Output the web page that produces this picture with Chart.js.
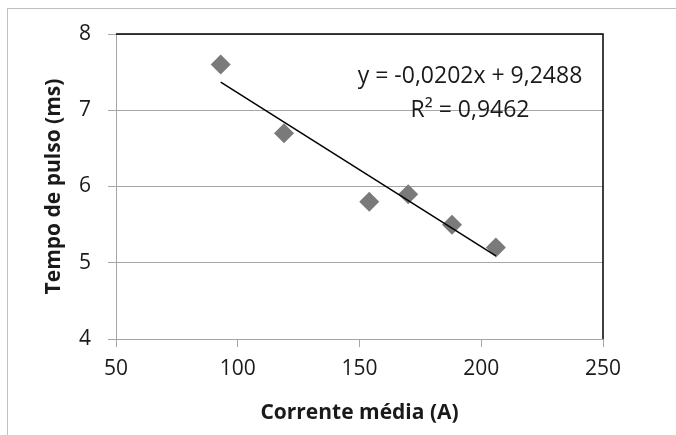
<!DOCTYPE html>
<html>
<head>
<meta charset="utf-8">
<script src="https://cdn.jsdelivr.net/npm/chart.js@4"></script>
<style>
  body { margin: 0; background: #fff; }
  #wrap { position: relative; width: 676px; height: 435px; }
</style>
</head>
<body>
<div id="wrap"><canvas id="pulseChart"></canvas></div>
<script>
// Medidas: corrente média x tempo de pulso
const correnteMedia = [93, 119, 154, 170, 188, 206];
const tempoPulso = [7.6, 6.7, 5.8, 5.9, 5.5, 5.2];

// Linha de tendência (pontos extremos)
const trendX = [93, 206];
const trendY = [7.37, 5.09];

const xTicks = [50, 100, 150, 200, 250];
const yTicks = [4, 5, 6, 7, 8];

const equationLines = ['y = -0,0202x + 9,2488', 'R² = 0,9462'];

const FONT = "'Open Sans', sans-serif";
const GRID = '#a6a6a6';

// Moldura do gráfico + borda superior/direita da área de plotagem
const framePlugin = {
    id: 'frame',
    beforeDraw(chart) {
        const ctx = chart.ctx;
        ctx.save();
        ctx.strokeStyle = '#c0c0c0';
        ctx.lineWidth = 1;
        ctx.strokeRect(7.5, 8.5, 720, 480);
        ctx.restore();
    },
    afterDraw(chart) {
        const { ctx, chartArea } = chart;
        ctx.save();
        ctx.strokeStyle = '#000';
        ctx.lineWidth = 1.5;
        ctx.beginPath();
        ctx.moveTo(chartArea.left, chartArea.top);
        ctx.lineTo(chartArea.right, chartArea.top);
        ctx.lineTo(chartArea.right, chartArea.bottom);
        ctx.stroke();

        // Equação da tendência
        ctx.fillStyle = '#1a1a1a';
        ctx.font = '23px ' + FONT;
        ctx.textAlign = 'center';
        ctx.textBaseline = 'middle';
        ctx.fillText(equationLines[0], 470, 76);
        ctx.fillText(equationLines[1], 470, 110);
        ctx.restore();
    }
};

const ctx = document.getElementById('pulseChart');
new Chart(ctx, {
    type: 'scatter',
    data: {
        datasets: [
            {
                label: 'Tendência',
                data: trendX.map((x, i) => ({ x: x, y: trendY[i] })),
                showLine: true,
                borderColor: '#000',
                borderWidth: 1.5,
                pointRadius: 0,
                order: 0
            },
            {
                label: 'Tempo de pulso',
                data: correnteMedia.map((x, i) => ({ x: x, y: tempoPulso[i] })),
                pointStyle: 'rectRot',
                pointRadius: 10,
                backgroundColor: '#7a7a7a',
                borderWidth: 0,
                order: 1
            }
        ]
    },
    options: {
        responsive: true,
        maintainAspectRatio: false,
        animation: false,
        layout: { padding: { left: 0, top: 34, right: 73, bottom: 0 } },
        plugins: {
            legend: { display: false },
            tooltip: { enabled: false }
        },
        scales: {
            x: {
                type: 'linear',
                min: 50,
                max: 250,
                afterBuildTicks: (scale) => { scale.ticks = xTicks.map(v => ({ value: v })); },
                afterFit: (scale) => { scale.height = 96; },
                border: { color: GRID, width: 1 },
                grid: { drawOnChartArea: false, drawTicks: true, tickLength: 8, color: GRID },
                ticks: { color: '#1a1a1a', font: { family: FONT, size: 21 }, padding: 9, maxRotation: 0 },
                title: {
                    display: true,
                    text: 'Corrente média (A)',
                    color: '#1a1a1a',
                    font: { family: FONT, size: 21, weight: 'bold' },
                    padding: { top: 0, bottom: 9 }
                }
            },
            y: {
                type: 'linear',
                min: 4,
                max: 8,
                afterBuildTicks: (scale) => { scale.ticks = yTicks.map(v => ({ value: v })); },
                afterFit: (scale) => { scale.width = 116; },
                border: { color: GRID, width: 1 },
                grid: { color: GRID, tickLength: 8 },
                ticks: { color: '#1a1a1a', font: { family: FONT, size: 21 }, padding: 17 },
                title: {
                    display: true,
                    text: 'Tempo de pulso (ms)',
                    color: '#1a1a1a',
                    font: { family: FONT, size: 21, weight: 'bold' },
                    padding: { top: 41, bottom: 0 }
                }
            }
        }
    },
    plugins: [framePlugin]
});
</script>
</body>
</html>
